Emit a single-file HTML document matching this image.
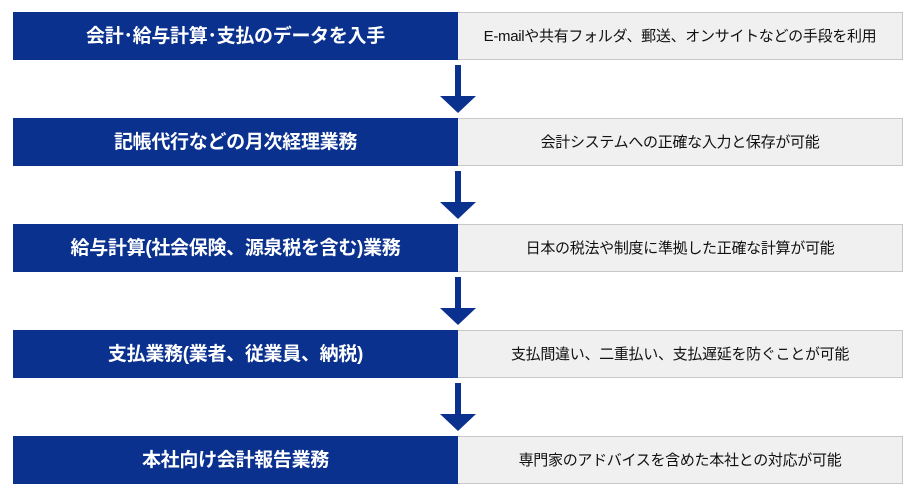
<!DOCTYPE html>
<html><head><meta charset="utf-8"><style>
body{margin:0;width:917px;height:500px;background:#fff;position:relative;overflow:hidden;font-family:"Liberation Sans","Noto Sans CJK JP",sans-serif}
.l{position:absolute;left:13px;width:445px;height:48px;background:#0b318f;color:#fff;font-weight:bold;font-size:19px;display:flex;align-items:center;justify-content:center;letter-spacing:-0.3px;line-height:1}
.r{position:absolute;left:458px;width:444px;height:46px;background:#f0f0f0;border:1px solid #c8c8c8;border-left:none;color:#111;font-size:15px;display:flex;align-items:center;justify-content:center;letter-spacing:-0.3px;line-height:1}
.s{position:absolute;left:455px;width:6px;height:31px;background:#0b318f}
.h{position:absolute;left:440px;width:0;height:0;border-left:18px solid transparent;border-right:18px solid transparent;border-top:17px solid #0b318f}
</style></head><body>
<div class="l" style="top:12px">会計･給与計算･支払のデータを入手</div><div class="r" style="top:12px">E-mailや共有フォルダ、郵送、オンサイトなどの手段を利用</div>
<div class="s" style="top:65px"></div><div class="h" style="top:96px"></div>
<div class="l" style="top:118px">記帳代行などの月次経理業務</div><div class="r" style="top:118px">会計システムへの正確な入力と保存が可能</div>
<div class="s" style="top:171px"></div><div class="h" style="top:202px"></div>
<div class="l" style="top:224px">給与計算(社会保険、源泉税を含む)業務</div><div class="r" style="top:224px">日本の税法や制度に準拠した正確な計算が可能</div>
<div class="s" style="top:277px"></div><div class="h" style="top:308px"></div>
<div class="l" style="top:330px">支払業務(業者、従業員、納税)</div><div class="r" style="top:330px">支払間違い、二重払い、支払遅延を防ぐことが可能</div>
<div class="s" style="top:383px"></div><div class="h" style="top:414px"></div>
<div class="l" style="top:436px">本社向け会計報告業務</div><div class="r" style="top:436px">専門家のアドバイスを含めた本社との対応が可能</div>
</body></html>
